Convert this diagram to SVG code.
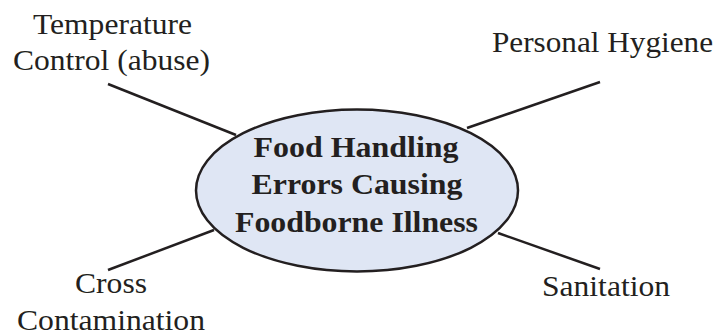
<svg xmlns="http://www.w3.org/2000/svg" width="717" height="336" viewBox="0 0 717 336">
<style>
.lbl{font-family:"Liberation Serif","Times New Roman",serif;font-size:30px;fill:#231f20;text-anchor:middle}
.ctr{font-family:"Liberation Serif","Times New Roman",serif;font-size:30px;font-weight:bold;fill:#231f20;text-anchor:middle}
.conn line{stroke:#231f20;stroke-width:2.5;fill:none}
</style>
<rect width="717" height="336" fill="#ffffff"/>
<g id="connectors" class="conn">
<line x1="108" y1="84" x2="236" y2="135"/>
<line x1="600" y1="82" x2="467" y2="128"/>
<line x1="108" y1="270" x2="214" y2="230"/>
<line x1="498" y1="233" x2="600" y2="269"/>
</g>
<g id="center">
<ellipse cx="357" cy="190.5" rx="161" ry="81" fill="#dfe6f4" stroke="#231f20" stroke-width="2.5"/>
<text class="ctr" x="356" y="157" textLength="205" lengthAdjust="spacingAndGlyphs">Food Handling</text>
<text class="ctr" x="357" y="194" textLength="211" lengthAdjust="spacingAndGlyphs">Errors Causing</text>
<text class="ctr" x="356.5" y="232" textLength="243" lengthAdjust="spacingAndGlyphs">Foodborne Illness</text>
</g>
<g id="temperature">
<text class="lbl" x="112.5" y="34" textLength="159" lengthAdjust="spacingAndGlyphs">Temperature</text>
<text class="lbl" x="111.5" y="70" textLength="197" lengthAdjust="spacingAndGlyphs">Control (abuse)</text>
</g>
<g id="hygiene">
<text class="lbl" x="602.5" y="52" textLength="221" lengthAdjust="spacingAndGlyphs">Personal Hygiene</text>
</g>
<g id="cross">
<text class="lbl" x="111" y="293" textLength="72" lengthAdjust="spacingAndGlyphs">Cross</text>
<text class="lbl" x="111" y="330" textLength="188" lengthAdjust="spacingAndGlyphs">Contamination</text>
</g>
<g id="sanitation">
<text class="lbl" x="606" y="296" textLength="128" lengthAdjust="spacingAndGlyphs">Sanitation</text>
</g>
</svg>
